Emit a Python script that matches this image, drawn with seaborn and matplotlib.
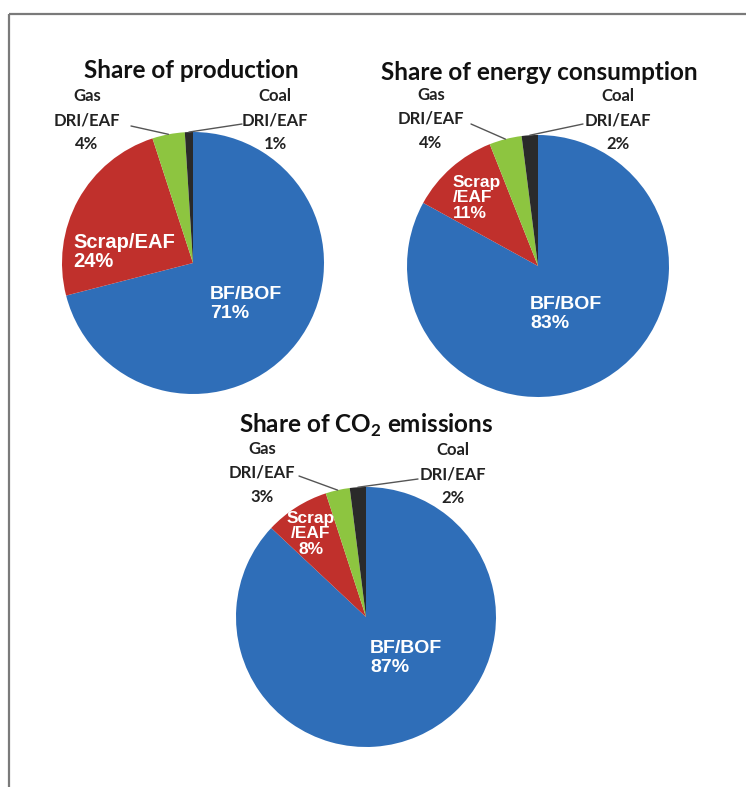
import matplotlib
matplotlib.use("Agg")
import matplotlib.pyplot as plt
import seaborn as sns
import numpy as np

# Steelmaking routes and their shares (%)
routes = ["BF/BOF", "Scrap/EAF", "Gas DRI/EAF", "Coal DRI/EAF"]
production_share = [71, 24, 4, 1]
energy_share = [83, 11, 4, 2]
co2_share = [87, 8, 3, 2]
titles = ["Share of production",
          "Share of energy consumption",
          r"Share of CO$_{\mathbf{2}}$ emissions"]

sns.set_theme(style="white")
plt.rcParams["font.family"] = ["Lato", "DejaVu Sans"]
plt.rcParams["mathtext.fontset"] = "custom"
plt.rcParams["mathtext.bf"] = "Lato:bold"
plt.rcParams["mathtext.rm"] = "Lato"

route_colors = sns.color_palette(["#2F6EB8", "#C0302C", "#8DC540", "#2A2A2A"])

W, H = 746, 787
fig = plt.figure(figsize=(W / 100, H / 100), dpi=100)
ax = fig.add_axes([0, 0, 1, 1])


def Y(py):
    return H - py


# layout of each pie: centre, radius, title position, outer-label anchors,
# leader-line starts, inner label anchors and line-break template
layouts = [
    dict(center=(193, 263), r=131, title=(191, 70),
         gas=(87, 120), coal=(275, 120),
         gas_start=(131, 126), coal_start=(242, 124),
         scrap=(73, 252, "left", "Scrap/EAF\n{}%", 14.5),
         bf=(210, 304, "left", "BF/BOF\n{}%", 14)),
    dict(center=(538, 266), r=131, title=(539, 72),
         gas=(431, 119), coal=(618, 120),
         gas_start=(471, 124), coal_start=(583, 124),
         scrap=(453, 198, "left", "Scrap\n/EAF\n{}%", 12.5),
         bf=(530, 314, "left", "BF/BOF\n{}%", 14)),
    dict(center=(366, 617), r=130, title=(366, 425),
         gas=(262, 473), coal=(453, 474),
         gas_start=(299, 476), coal_start=(418, 479),
         scrap=(311, 534, "center", "Scrap\n/EAF\n{}%", 12.5),
         bf=(370, 658, "left", "BF/BOF\n{}%", 14)),
]

for shares, title, lay in zip([production_share, energy_share, co2_share], titles, layouts):
    cx, cy = lay["center"]
    r = lay["r"]
    wedges, _ = ax.pie(shares, colors=route_colors, startangle=90, counterclock=False,
                       center=(cx, Y(cy)), radius=r,
                       wedgeprops=dict(linewidth=0, antialiased=True))

    ax.text(lay["title"][0], Y(lay["title"][1]), title, ha="center", va="center",
            fontsize=17.5, fontweight="bold", color="#111111")

    # outer labels for the two small DRI wedges, with leader lines to the rim
    for idx, key in [(2, "gas"), (3, "coal")]:
        name = routes[idx].replace(" ", "\n")
        lx, ly = lay[key]
        ax.text(lx, Y(ly), f"{name}\n{shares[idx]}%", ha="center", va="center",
                fontsize=12, fontweight="bold", color="#222222", linespacing=1.62)
        w = wedges[idx]
        mid = np.deg2rad((w.theta1 + w.theta2) / 2)
        ex, ey = cx + r * np.cos(mid), Y(cy) + r * np.sin(mid)
        sx, sy = lay[key + "_start"]
        ax.plot([sx, ex], [Y(sy), ey], color="#555555", lw=1.0, solid_capstyle="round")

    # white labels inside the two large wedges
    sx, sy, sha, stmpl, sfs = lay["scrap"]
    ax.text(sx, Y(sy), stmpl.format(shares[1]), ha=sha, va="center", multialignment=sha,
            fontsize=sfs, fontweight="bold", color="white",
            family=["Liberation Sans", "DejaVu Sans"], linespacing=1.0)
    bx, by, bha, btmpl, bfs = lay["bf"]
    ax.text(bx, Y(by), btmpl.format(shares[0]), ha=bha, va="center",
            fontsize=bfs, fontweight="bold", color="white",
            family=["Liberation Sans", "DejaVu Sans"], linespacing=1.15)

# partial frame (top and left rules)
ax.plot([9, W], [Y(14), Y(14)], color="#7A7A7A", lw=1.6, solid_capstyle="butt")
ax.plot([9, 9], [Y(14), 0], color="#7A7A7A", lw=1.6, solid_capstyle="butt")

ax.set_xlim(0, W)
ax.set_ylim(0, H)
ax.set_aspect("auto")
ax.axis("off")

fig.savefig("out.png", dpi=100, facecolor="white")
